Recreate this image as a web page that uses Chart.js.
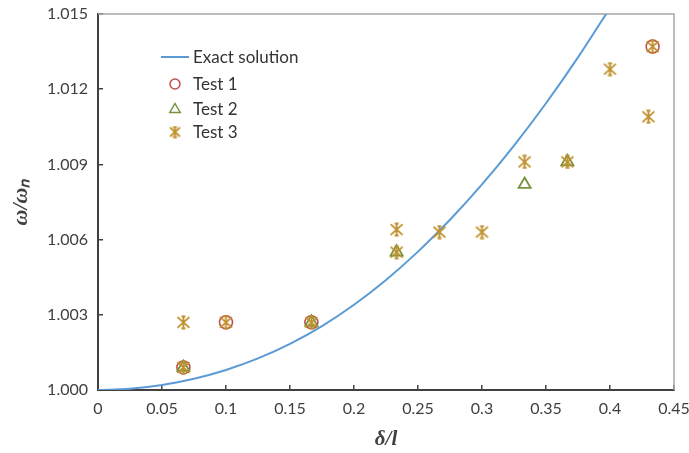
<!DOCTYPE html>
<html><head><meta charset="utf-8">
<script src="https://cdn.jsdelivr.net/npm/chart.js@4/dist/chart.umd.min.js"></script>
<style>html,body{margin:0;padding:0;background:#fff}#wrap{width:689px;height:453px}</style>
</head><body><div id="wrap"><canvas id="c" width="689" height="453"></canvas></div>
<script>
// ---- data ----
const exactX = [0, 0.025, 0.05, 0.075, 0.1, 0.125, 0.15, 0.175, 0.2, 0.225, 0.25, 0.275, 0.3, 0.325, 0.35, 0.375, 0.4];
const exactY = [1.00000, 1.00005, 1.00020, 1.00045, 1.00080, 1.00126, 1.00184, 1.00255, 1.00340, 1.00439, 1.00552, 1.00679, 1.00820, 1.00975, 1.01144, 1.01327, 1.01524];
const test1X = [0.0667, 0.1, 0.1667, 0.4333];
const test1Y = [1.0009, 1.0027, 1.0027, 1.0137];
const test2X = [0.0667, 0.1667, 0.2333, 0.3333, 0.3667];
const test2Y = [1.0009, 1.0027, 1.0055, 1.0082, 1.0091];
const test3X = [0.0667, 0.0667, 0.1, 0.1667, 0.2333, 0.2333, 0.2667, 0.3, 0.3333, 0.3667, 0.4, 0.43, 0.4333];
const test3Y = [1.0027, 1.0009, 1.0027, 1.0027, 1.0064, 1.0055, 1.0063, 1.0063, 1.0091, 1.0091, 1.0128, 1.0109, 1.0137];
const xTickValues = [0, 0.05, 0.1, 0.15, 0.2, 0.25, 0.3, 0.35, 0.4, 0.45];
const xTickLabels = ['0', '0.05', '0.1', '0.15', '0.2', '0.25', '0.3', '0.35', '0.4', '0.45'];
const yTickValues = [1.000, 1.003, 1.006, 1.009, 1.012, 1.015];
const yTickLabels = ['1.000', '1.003', '1.006', '1.009', '1.012', '1.015'];
const seriesNames = ['Exact solution', 'Test 1', 'Test 2', 'Test 3'];

const BLUE = '#5B9BD5', RED = '#C0504D', GREEN = '#77933C', GOLD = '#BF8F2A';
const TXT = '#404040';

function pts(xs, ys) { return xs.map((x, i) => ({ x: x, y: ys[i] })); }

function makeStar(size, color) {
  const c = document.createElement('canvas');
  c.width = size; c.height = size;
  const g = c.getContext('2d');
  const m = size / 2, r = size / 2 - 1.5;
  g.strokeStyle = color; g.lineWidth = 1.8; g.lineCap = 'butt';
  g.beginPath();
  g.moveTo(m - r, m - r * 0.9); g.lineTo(m + r, m + r * 0.9);
  g.moveTo(m - r, m + r * 0.9); g.lineTo(m + r, m - r * 0.9);
  g.moveTo(m, m - r - 0.5); g.lineTo(m, m + r + 0.5);
  g.moveTo(m - 2, m - r); g.lineTo(m + 2, m - r);
  g.moveTo(m - 2, m + r); g.lineTo(m + 2, m + r);
  g.stroke();
  return c;
}
const starImg = makeStar(15, GOLD);

const frame = {
  id: 'frame',
  beforeDatasetsDraw(chart) {
    const a = chart.chartArea, ctx = chart.ctx;
    ctx.save();
    ctx.strokeStyle = '#A6A6A6'; ctx.lineWidth = 1.5;
    ctx.beginPath();
    ctx.moveTo(a.left, a.top); ctx.lineTo(a.right, a.top); ctx.lineTo(a.right, a.bottom);
    ctx.stroke();
    ctx.restore();
  },
  afterDraw(chart) {
    const a = chart.chartArea, ctx = chart.ctx;
    const lx = a.left + 77, tx = a.left + 95;
    const rows = [a.top + 43, a.top + 70, a.top + 95, a.top + 118];
    ctx.save();
    ctx.font = '17px Lato';
    ctx.fillStyle = '#333333'; ctx.textBaseline = 'middle'; ctx.textAlign = 'left';
    ctx.strokeStyle = BLUE; ctx.lineWidth = 2;
    ctx.beginPath(); ctx.moveTo(lx - 14, rows[0]); ctx.lineTo(lx + 14, rows[0]); ctx.stroke();
    ctx.strokeStyle = RED; ctx.lineWidth = 1.5;
    ctx.beginPath(); ctx.arc(lx, rows[1], 5, 0, Math.PI * 2); ctx.stroke();
    ctx.strokeStyle = GREEN; ctx.lineWidth = 1.5;
    const r = 6, cy = rows[2] + 0.5;
    ctx.beginPath();
    ctx.moveTo(lx, cy - r); ctx.lineTo(lx + r * 0.866, cy + r / 2); ctx.lineTo(lx - r * 0.866, cy + r / 2); ctx.closePath(); ctx.stroke();
    ctx.drawImage(makeStar(13, GOLD), lx - 6.5, rows[3] - 6.5);
    for (let i = 0; i < 4; i++) ctx.fillText(seriesNames[i], tx, rows[i] + 1);
    ctx.restore();
  }
};

new Chart(document.getElementById('c'), {
  type: 'scatter',
  data: {
    datasets: [
      { label: seriesNames[0], data: pts(exactX, exactY), showLine: true, borderColor: BLUE, borderWidth: 2,
        pointRadius: 0, cubicInterpolationMode: 'monotone', order: 3 },
      { label: seriesNames[1], data: pts(test1X, test1Y), pointStyle: 'circle', pointRadius: 6.5,
        borderColor: RED, backgroundColor: 'rgba(0,0,0,0)', pointBorderWidth: 1.6, order: 2 },
      { label: seriesNames[2], data: pts(test2X, test2Y), pointStyle: 'triangle', pointRadius: 7,
        borderColor: GREEN, backgroundColor: 'rgba(0,0,0,0)', pointBorderWidth: 1.8, order: 1 },
      { label: seriesNames[3], data: pts(test3X, test3Y), pointStyle: starImg, pointRadius: 6,
        borderColor: GOLD, backgroundColor: GOLD, order: 0 }
    ]
  },
  plugins: [frame],
  options: {
    responsive: false, animation: false,
    layout: { padding: { top: 14, right: 15, left: 0, bottom: 0 } },
    plugins: { legend: { display: false }, tooltip: { enabled: false } },
    scales: {
      x: {
        type: 'linear', min: 0, max: 0.45,
        afterBuildTicks: s => { s.ticks = xTickValues.map(v => ({ value: v })); },
        afterFit: s => { s.height = 63; s.paddingLeft = 0; s.paddingRight = 0; s.paddingTop = 0; s.paddingBottom = 0; },
        grid: { display: true, drawOnChartArea: false, drawTicks: true, tickLength: -5, color: TXT, lineWidth: 1.5 },
        border: { display: true, color: TXT, width: 2 },
        ticks: { padding: 14, color: TXT, font: { family: 'Lato', size: 16 }, maxRotation: 0, autoSkip: false,
          callback: (v, i) => xTickLabels[i] },
        title: { display: true, text: 'δ/l', color: TXT, padding: { top: 0, bottom: 1 },
          font: { family: 'Liberation Serif', size: 21, weight: 'bold', style: 'italic' } }
      },
      y: {
        type: 'linear', min: 1.000, max: 1.015,
        afterBuildTicks: s => { s.ticks = yTickValues.map(v => ({ value: v })); },
        afterFit: s => { s.width = 98; s.paddingLeft = 0; s.paddingRight = 0; s.paddingTop = 0; s.paddingBottom = 0; },
        grid: { display: true, drawOnChartArea: false, drawTicks: true, tickLength: -5, color: TXT, lineWidth: 1.5 },
        border: { display: true, color: TXT, width: 2 },
        ticks: { padding: 15, color: TXT, font: { family: 'Lato', size: 16 }, autoSkip: false,
          callback: (v, i) => yTickLabels[i] },
        title: { display: true, text: 'ω/ωₙ', color: TXT, padding: { top: 8, bottom: 0 },
          font: { family: 'Liberation Serif', size: 22, weight: 'bold', style: 'italic' } }
      }
    }
  }
});
</script></body></html>
